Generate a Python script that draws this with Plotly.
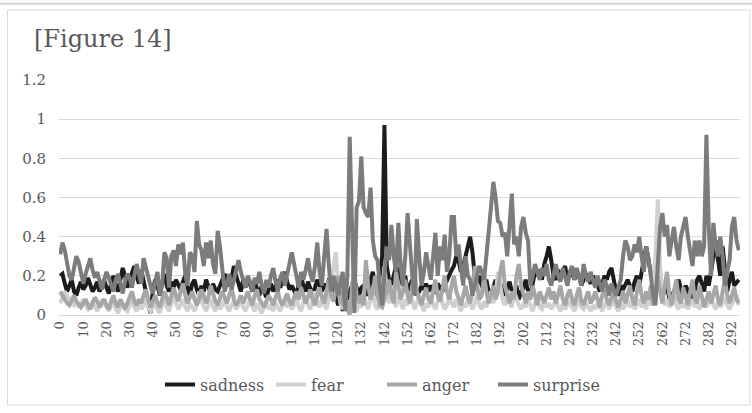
import plotly.graph_objects as go

# ---- data ----
categories = [str(v) for v in list(range(0, 125)) + list(range(127, 296))]

sadness = [
    0.20,0.21,0.16,0.12,0.15,0.18,0.12,0.10,0.14,0.17,
    0.13,0.15,0.19,0.16,0.12,0.14,0.17,0.12,0.15,0.18,
    0.14,0.11,0.16,0.20,0.15,0.12,0.18,0.24,0.20,0.14,
    0.18,0.22,0.25,0.20,0.16,0.23,0.18,0.12,0.05,0.01,
    0.12,0.18,0.15,0.10,0.16,0.21,0.15,0.12,0.17,0.14,
    0.18,0.15,0.13,0.17,0.20,0.14,0.10,0.16,0.18,0.13,
    0.10,0.15,0.12,0.18,0.14,0.11,0.16,0.13,0.12,0.15,
    0.18,0.21,0.17,0.15,0.19,0.25,0.20,0.16,0.12,0.18,
    0.14,0.19,0.15,0.12,0.17,0.14,0.10,0.15,0.12,0.09,
    0.13,0.16,0.12,0.15,0.18,0.14,0.19,0.22,0.17,0.13,
    0.15,0.12,0.10,0.16,0.20,0.15,0.12,0.17,0.13,0.10,
    0.14,0.18,0.15,0.12,0.16,0.13,0.18,0.21,0.15,0.10,
    0.05,0.12,0.02,0.10,0.08,0.12,0.15,0.18,0.14,0.10,
    0.14,0.15,0.12,0.10,0.18,0.22,0.15,0.10,0.20,0.30,
    0.97,0.25,0.18,0.15,0.20,0.25,0.22,0.18,0.15,0.20,
    0.12,0.15,0.18,0.14,0.10,0.12,0.15,0.13,0.16,0.12,
    0.15,0.13,0.12,0.16,0.14,0.12,0.15,0.18,0.20,0.23,
    0.25,0.30,0.28,0.22,0.25,0.30,0.35,0.40,0.32,0.20,
    0.16,0.20,0.15,0.13,0.18,0.12,0.10,0.15,0.18,0.14,
    0.16,0.12,0.10,0.14,0.17,0.12,0.10,0.15,0.08,0.12,
    0.14,0.18,0.12,0.10,0.15,0.22,0.20,0.23,0.18,0.26,
    0.30,0.35,0.28,0.20,0.18,0.23,0.20,0.22,0.25,0.18,
    0.20,0.23,0.18,0.22,0.20,0.15,0.18,0.21,0.19,0.16,
    0.20,0.18,0.15,0.12,0.16,0.20,0.18,0.22,0.24,0.18,
    0.12,0.10,0.15,0.13,0.16,0.18,0.15,0.12,0.17,0.20,
    0.15,0.22,0.30,0.35,0.28,0.20,0.15,0.18,0.25,0.15,
    0.10,0.12,0.15,0.08,0.10,0.12,0.15,0.18,0.13,0.10,
    0.15,0.12,0.10,0.08,0.14,0.18,0.20,0.16,0.12,0.20,
    0.15,0.22,0.30,0.38,0.28,0.20,0.35,0.25,0.12,0.18,
    0.22,0.15,0.17,0.18,
]

fear = [
    0.06,0.09,0.12,0.10,0.08,0.06,0.05,0.07,0.04,0.06,
    0.08,0.05,0.03,0.05,0.07,0.04,0.02,0.05,0.08,0.06,
    0.04,0.02,0.05,0.07,0.03,0.01,0.04,0.06,0.03,0.02,
    0.05,0.08,0.04,0.02,0.06,0.03,0.05,0.09,0.04,0.02,
    0.04,0.07,0.03,0.01,0.05,0.08,0.04,0.02,0.06,0.10,
    0.06,0.03,0.05,0.08,0.04,0.02,0.06,0.04,0.02,0.05,
    0.12,0.07,0.04,0.02,0.05,0.08,0.04,0.02,0.06,0.03,
    0.05,0.08,0.04,0.02,0.05,0.07,0.03,0.05,0.09,0.04,
    0.02,0.05,0.08,0.04,0.02,0.06,0.03,0.01,0.04,0.07,
    0.03,0.05,0.02,0.06,0.04,0.02,0.05,0.08,0.04,0.06,
    0.03,0.05,0.09,0.04,0.02,0.06,0.10,0.05,0.03,0.07,
    0.12,0.06,0.04,0.08,0.05,0.03,0.10,0.18,0.25,0.32,
    0.15,0.06,0.03,0.10,0.05,0.02,0.08,0.04,0.02,0.06,
    0.04,0.10,0.06,0.03,0.08,0.12,0.05,0.03,0.06,0.10,
    0.25,0.12,0.06,0.15,0.08,0.04,0.10,0.06,0.03,0.08,
    0.05,0.12,0.07,0.03,0.06,0.10,0.05,0.02,0.06,0.04,
    0.08,0.05,0.03,0.07,0.12,0.06,0.03,0.05,0.10,0.06,
    0.04,0.08,0.05,0.02,0.06,0.04,0.08,0.05,0.03,0.06,
    0.10,0.05,0.03,0.07,0.04,0.08,0.12,0.06,0.10,0.22,
    0.15,0.08,0.05,0.10,0.06,0.04,0.12,0.08,0.05,0.03,
    0.06,0.04,0.08,0.05,0.02,0.06,0.09,0.04,0.03,0.07,
    0.04,0.06,0.03,0.05,0.08,0.04,0.02,0.06,0.03,0.05,
    0.07,0.04,0.02,0.05,0.08,0.04,0.03,0.06,0.04,0.02,
    0.05,0.03,0.06,0.04,0.02,0.05,0.07,0.03,0.05,0.08,
    0.04,0.02,0.06,0.03,0.05,0.08,0.04,0.06,0.03,0.05,
    0.08,0.04,0.06,0.03,0.10,0.05,0.15,0.30,0.59,0.25,
    0.10,0.05,0.08,0.04,0.06,0.10,0.05,0.03,0.07,0.04,
    0.06,0.03,0.05,0.08,0.04,0.06,0.03,0.05,0.08,0.04,
    0.06,0.10,0.05,0.03,0.07,0.04,0.06,0.09,0.05,0.03,
    0.06,0.08,0.10,0.05,
]

anger = [
    0.12,0.10,0.08,0.06,0.05,0.08,0.10,0.07,0.05,0.04,
    0.06,0.08,0.05,0.03,0.06,0.09,0.07,0.04,0.06,0.08,
    0.05,0.03,0.07,0.10,0.06,0.04,0.08,0.05,0.03,0.06,
    0.09,0.12,0.07,0.05,0.08,0.06,0.10,0.13,0.08,0.04,
    0.07,0.10,0.06,0.04,0.08,0.12,0.09,0.05,0.10,0.14,
    0.10,0.07,0.12,0.16,0.10,0.06,0.09,0.12,0.08,0.05,
    0.08,0.13,0.10,0.06,0.09,0.15,0.11,0.07,0.05,0.08,
    0.12,0.09,0.06,0.10,0.14,0.08,0.05,0.07,0.10,0.06,
    0.09,0.12,0.08,0.05,0.10,0.13,0.08,0.06,0.04,0.07,
    0.10,0.08,0.05,0.09,0.12,0.07,0.05,0.08,0.11,0.07,
    0.05,0.09,0.12,0.08,0.14,0.10,0.06,0.09,0.13,0.08,
    0.05,0.10,0.14,0.09,0.06,0.12,0.18,0.10,0.07,0.13,
    0.20,0.08,0.05,0.12,0.03,0.00,0.15,0.22,0.10,0.06,
    0.10,0.05,0.28,0.15,0.08,0.12,0.20,0.10,0.05,0.04,
    0.08,0.12,0.18,0.10,0.06,0.22,0.15,0.08,0.12,0.18,
    0.10,0.06,0.15,0.22,0.12,0.08,0.05,0.10,0.14,0.08,
    0.06,0.12,0.18,0.10,0.07,0.13,0.20,0.12,0.08,0.15,
    0.20,0.12,0.08,0.05,0.10,0.15,0.09,0.06,0.12,0.25,
    0.15,0.08,0.10,0.20,0.12,0.06,0.10,0.15,0.08,0.12,
    0.22,0.28,0.15,0.10,0.06,0.12,0.08,0.20,0.26,0.15,
    0.10,0.06,0.12,0.08,0.15,0.10,0.05,0.12,0.09,0.06,
    0.10,0.14,0.08,0.12,0.06,0.10,0.15,0.08,0.05,0.10,
    0.13,0.08,0.05,0.10,0.14,0.07,0.05,0.09,0.12,0.06,
    0.08,0.12,0.07,0.04,0.10,0.13,0.08,0.05,0.09,0.12,
    0.07,0.04,0.08,0.12,0.06,0.10,0.15,0.08,0.05,0.12,
    0.18,0.10,0.06,0.12,0.08,0.15,0.05,0.10,0.20,0.12,
    0.06,0.15,0.22,0.10,0.05,0.12,0.18,0.08,0.06,0.14,
    0.10,0.05,0.12,0.18,0.08,0.06,0.15,0.10,0.04,0.08,
    0.12,0.06,0.10,0.15,0.08,0.05,0.12,0.18,0.10,0.06,
    0.10,0.14,0.08,0.06,
]

surprise = [
    0.31,0.37,0.33,0.26,0.20,0.18,0.24,0.30,0.27,0.20,
    0.16,0.21,0.26,0.29,0.23,0.19,0.22,0.17,0.13,0.18,
    0.22,0.19,0.15,0.12,0.18,0.21,0.16,0.11,0.17,0.21,
    0.19,0.14,0.20,0.26,0.21,0.16,0.29,0.24,0.18,0.15,
    0.11,0.16,0.22,0.10,0.15,0.32,0.29,0.14,0.30,0.33,
    0.25,0.36,0.31,0.37,0.21,0.15,0.32,0.30,0.22,0.48,
    0.36,0.33,0.25,0.37,0.29,0.38,0.26,0.21,0.43,0.35,
    0.21,0.12,0.16,0.21,0.13,0.18,0.21,0.28,0.22,0.18,
    0.14,0.20,0.17,0.12,0.19,0.16,0.22,0.15,0.11,0.18,
    0.14,0.20,0.24,0.17,0.12,0.19,0.22,0.15,0.20,0.27,
    0.32,0.26,0.20,0.14,0.22,0.18,0.23,0.29,0.21,0.17,
    0.25,0.37,0.22,0.15,0.30,0.44,0.25,0.12,0.20,0.16,
    0.10,0.15,0.22,0.02,0.20,0.91,0.40,0.01,0.55,0.58,
    0.81,0.55,0.52,0.50,0.65,0.38,0.30,0.28,0.15,0.05,
    0.20,0.35,0.28,0.46,0.30,0.22,0.47,0.25,0.15,0.30,
    0.52,0.35,0.20,0.10,0.49,0.30,0.15,0.22,0.32,0.25,
    0.18,0.30,0.42,0.20,0.35,0.28,0.41,0.22,0.30,0.50,
    0.50,0.30,0.36,0.25,0.15,0.30,0.20,0.18,0.10,0.15,
    0.20,0.25,0.22,0.18,0.30,0.45,0.55,0.68,0.60,0.48,
    0.47,0.40,0.42,0.30,0.45,0.62,0.36,0.40,0.30,0.45,
    0.50,0.42,0.38,0.15,0.20,0.26,0.22,0.18,0.24,0.20,
    0.26,0.18,0.15,0.22,0.26,0.20,0.17,0.24,0.19,0.15,
    0.22,0.25,0.18,0.24,0.20,0.15,0.26,0.20,0.17,0.22,
    0.18,0.14,0.20,0.16,0.12,0.18,0.15,0.10,0.16,0.13,
    0.10,0.14,0.18,0.30,0.38,0.35,0.28,0.30,0.36,0.32,
    0.40,0.30,0.22,0.35,0.29,0.20,0.10,0.05,0.30,0.45,
    0.52,0.40,0.46,0.30,0.38,0.45,0.35,0.28,0.40,0.45,
    0.50,0.40,0.33,0.25,0.38,0.30,0.38,0.30,0.35,0.92,
    0.45,0.20,0.47,0.35,0.30,0.40,0.30,0.15,0.22,0.28,
    0.45,0.50,0.38,0.33,
]

series_names = ["sadness", "fear", "anger", "surprise"]
series_values = [sadness, fear, anger, surprise]
series_colors = ["#1c1c1c", "#d0d0d0", "#a6a6a6", "#7c7c7c"]
y_ticks = [0, 0.2, 0.4, 0.6, 0.8, 1, 1.2]
y_tick_text = ["0", "0.2", "0.4", "0.6", "0.8", "1", "1.2"]
x_tick_labels = categories[::10]

# ---- figure ----
W, H = 752, 413
L, R, T, B = 59, 12, 80, 93
pw, ph = W - L - R, H - T - B

def px_x(px):
    return (px - L) / pw

def px_y(py):
    return (H - B - py) / ph

fig = go.Figure()
for name, vals, col in zip(series_names, series_values, series_colors):
    fig.add_trace(go.Scatter(
        x=categories, y=vals, name=name, mode="lines",
        line=dict(color=col, width=4),
    ))

serif = "DejaVu Serif"
fig.update_layout(
    width=W, height=H,
    margin=dict(l=L, r=R, t=T, b=B, pad=0),
    paper_bgcolor="white", plot_bgcolor="white",
    showlegend=True,
    legend=dict(
        orientation="h", x=px_x(160), xanchor="left",
        y=px_y(391), yanchor="middle",
        font=dict(family=serif, size=16, color="#595959"),
        entrywidth=66, entrywidthmode="pixels",
        tracegroupgap=0,
    ),
    xaxis=dict(
        type="category", range=[-0.5, len(categories) - 0.5],
        tickmode="array", tickvals=x_tick_labels, ticktext=x_tick_labels,
        tickangle=-90, ticks="", showgrid=False,
        showline=True, linecolor="#d9d9d9", linewidth=1,
        tickfont=dict(family=serif, size=13, color="#595959"),
        fixedrange=True,
    ),
    yaxis=dict(
        range=[0, 1.2], tickmode="array", tickvals=y_ticks, ticktext=y_tick_text,
        showgrid=True, gridcolor="#d9d9d9", gridwidth=1,
        zeroline=False, showline=False, ticks="",
        ticklabelstandoff=12,
        tickfont=dict(family=serif, size=15, color="#595959"),
        fixedrange=True,
    ),
    annotations=[dict(
        text="[Figure 14]", xref="paper", yref="paper",
        x=px_x(32), y=px_y(38), xanchor="left", yanchor="middle",
        showarrow=False, font=dict(family=serif, size=24, color="#595959"),
    )],
    shapes=[
        dict(type="line", xref="paper", yref="paper",
             x0=px_x(0), x1=px_x(W), y0=px_y(2), y1=px_y(2),
             line=dict(color="#d4d4d4", width=2)),
        dict(type="rect", xref="paper", yref="paper",
             x0=px_x(7.5), x1=px_x(750), y0=px_y(8.5), y1=px_y(412),
             line=dict(color="#d9d9d9", width=1)),
    ],
)

fig.write_html("out.html", config={"displayModeBar": False},
               post_script="document.body.style.margin='0px';")
